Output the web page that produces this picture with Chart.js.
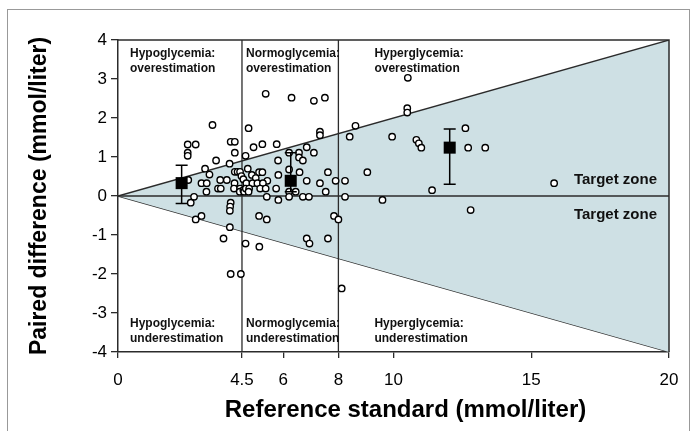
<!DOCTYPE html>
<html>
<head>
<meta charset="utf-8">
<script src="https://cdn.jsdelivr.net/npm/chart.js@4"></script>
<style>
  body { margin: 0; background: #fff; }
  #wrap { position: relative; width: 696px; height: 431px; }
  #frame { position: absolute; left: 7px; top: 9px; width: 681px; height: 430px; border: 1px solid #999; border-bottom: none; pointer-events: none; }
</style>
</head>
<body>
<div id="wrap">
  <canvas id="chart" width="696" height="431"></canvas>
  <div id="frame"></div>
</div>
<script>
// x ticks and y range
const xTicks = [0, 4.5, 6, 8, 10, 15, 20];
const yMin = -4, yMax = 4;
const zoneBounds = [4.5, 8];

// paired observations: reference value and difference
const refX = [2.53, 2.82, 2.53, 2.53, 4.09, 4.24, 4.24, 3.43, 3.56, 4.05, 3.16, 3.32, 4.24, 4.34, 4.43, 4.48, 2.55, 3.03, 3.22, 3.71,
  3.95, 4.23, 3.21, 3.63, 3.73, 4.21, 4.43, 4.42, 2.76, 2.64, 4.09, 4.07, 4.06, 3.03, 2.82, 4.06, 3.83, 4.09, 4.46,
  4.63, 4.71, 4.55, 4.55, 4.70, 4.58, 4.63, 5.36, 6.30, 7.11, 7.51, 4.74, 7.33, 7.33, 4.92, 5.24, 5.76, 6.85, 6.21, 6.57,
  7.11, 6.57, 6.71, 5.81, 6.21, 6.59, 5.12, 5.24, 4.86, 5.82, 7.62, 5.00, 5.42, 6.85, 7.33, 7.90, 4.66, 4.88, 5.06, 5.26,
  4.64, 4.76, 5.16, 5.36, 5.74, 4.74, 6.21, 6.45, 7.54, 5.40, 6.21, 6.71, 6.93, 5.82, 5.12, 5.40, 7.84, 5.13, 6.85, 6.95, 7.62,
  8.62, 8.41, 8.24, 8.24, 8.00, 8.12, 9.05, 10.52, 10.50, 10.50, 9.95, 10.83, 10.92, 11.01, 12.61, 12.71, 13.33, 11.40, 15.83, 12.80, 9.60];
const diffY = [1.32, 1.32, 1.11, 1.03, 1.39, 1.39, 1.11, 1.82, 0.91, 0.83, 0.70, 0.55, 0.62, 0.62, 0.62, 0.51, 0.41, 0.33, 0.33, 0.41,
  0.41, 0.33, 0.11, 0.19, 0.19, 0.19, 0.19, 0.11, -0.02, -0.17, -0.17, -0.27, -0.38, -0.51, -0.60, -0.80, -1.09, -2.00, -2.00,
  1.03, 0.70, 0.43, 0.15, 0.15, 0.11, -1.22, 2.62, 2.52, 2.44, 2.52, 1.74, 1.65, 1.56, 1.25, 1.33, 1.33, 1.25, 1.11, 1.11,
  1.11, 0.99, 0.91, 0.91, 0.68, 0.61, 0.61, 0.61, 0.54, 0.54, 0.61, 0.46, 0.39, 0.39, 0.33, 0.39, 0.33, 0.33, 0.33, 0.33,
  0.19, 0.19, 0.19, 0.19, 0.19, 0.11, 0.11, 0.11, 0.11, -0.02, -0.02, -0.02, -0.02, -0.10, -0.51, -0.60, -0.51, -1.30, -1.09, -1.22, -1.09,
  1.80, 1.52, 0.39, -0.02, -0.60, -2.37, 0.61, 3.03, 2.25, 2.14, 1.52, 1.44, 1.35, 1.24, 1.74, 1.24, 1.24, 0.15, 0.33, -0.36, -0.10];

// group means with error bars
const meanX = [2.31, 6.27, 12.04];
const meanY = [0.33, 0.39, 1.24];
const errLo = [-0.19, 0.11, 0.30];
const errHi = [0.79, 1.11, 1.72];

const topLabels = ['Hypoglycemia:|overestimation', 'Normoglycemia:|overestimation', 'Hyperglycemia:|overestimation'];
const bottomLabels = ['Hypoglycemia:|underestimation', 'Normoglycemia:|underestimation', 'Hyperglycemia:|underestimation'];
const xTitle = 'Reference standard (mmol/liter)';
const yTitle = 'Paired difference (mmol/liter)';

const ink = '#2b2b2b';
const fontFam = '"Liberation Sans", Arial, sans-serif';

const points = refX.map((x, i) => ({x: x, y: diffY[i]}));
const means = meanX.map((x, i) => ({x: x, y: meanY[i]}));

const extras = {
  id: 'extras',
  afterDatasetsDraw(chart) {
    const ctx = chart.ctx;
    const xs = chart.scales.x, ys = chart.scales.y;
    const area = chart.chartArea;
    ctx.save();
    // error bars
    ctx.strokeStyle = '#000';
    ctx.lineWidth = 1.5;
    meanX.forEach((mx, i) => {
      const px = xs.getPixelForValue(mx);
      const p1 = ys.getPixelForValue(errLo[i]);
      const p2 = ys.getPixelForValue(errHi[i]);
      ctx.beginPath();
      ctx.moveTo(px, p1); ctx.lineTo(px, p2);
      ctx.moveTo(px - 6, p1); ctx.lineTo(px + 6, p1);
      ctx.moveTo(px - 6, p2); ctx.lineTo(px + 6, p2);
      ctx.stroke();
    });
    // box top and right
    ctx.strokeStyle = ink;
    ctx.lineWidth = 1.5;
    ctx.beginPath();
    ctx.moveTo(area.left, area.top); ctx.lineTo(area.right, area.top); ctx.lineTo(area.right, area.bottom);
    ctx.stroke();
    // region labels
    ctx.fillStyle = '#111';
    ctx.font = 'bold 12px ' + fontFam;
    ctx.textBaseline = 'middle';
    ctx.textAlign = 'left';
    const starts = [xs.getPixelForValue(0) + 12, xs.getPixelForValue(zoneBounds[0]) + 4, xs.getPixelForValue(zoneBounds[1]) + 36];
    starts.forEach((sx, i) => {
      const t = topLabels[i].split('|');
      ctx.fillText(t[0], sx, area.top + 14);
      ctx.fillText(t[1], sx, area.top + 29);
      const b = bottomLabels[i].split('|');
      ctx.fillText(b[0], sx, area.bottom - 28);
      ctx.fillText(b[1], sx, area.bottom - 13);
    });
    // target zone
    ctx.font = 'bold 15px ' + fontFam;
    ctx.textAlign = 'right';
    const zx = xs.getPixelForValue(20) - 12;
    const zy = ys.getPixelForValue(0);
    ctx.fillText('Target zone', zx, zy - 16);
    ctx.fillText('Target zone', zx, zy + 19);
    // axis titles
    ctx.fillStyle = '#000';
    ctx.textAlign = 'center';
    ctx.font = 'bold 24px ' + fontFam;
    ctx.fillText(xTitle, (area.left + area.right) / 2 + 12, 410);
    ctx.translate(40, (area.top + area.bottom) / 2);
    ctx.rotate(-Math.PI / 2);
    ctx.font = 'bold 23px ' + fontFam;
    ctx.fillText(yTitle, 0, 0);
    ctx.restore();
  }
};

new Chart(document.getElementById('chart').getContext('2d'), {
  type: 'scatter',
  data: {
    datasets: [
      {
        data: means, pointStyle: 'rect', pointRadius: 8.5, backgroundColor: '#000', borderColor: '#000',
        borderWidth: 0, order: 0
      },
      {
        data: points, pointRadius: 3.2, backgroundColor: '#fff', borderColor: '#000', borderWidth: 1.4, order: 1
      },
      {
        data: [{x: 0, y: 0}, {x: 20, y: 0}], showLine: true, pointRadius: 0, borderColor: ink, borderWidth: 1.3, order: 5
      },
      {
        data: [{x: zoneBounds[0], y: yMin}, {x: zoneBounds[0], y: yMax}], showLine: true, pointRadius: 0, borderColor: ink, borderWidth: 1.3, order: 5
      },
      {
        data: [{x: zoneBounds[1], y: yMin}, {x: zoneBounds[1], y: yMax}], showLine: true, pointRadius: 0, borderColor: ink, borderWidth: 1.3, order: 5
      },
      {
        data: [{x: 0, y: 0}, {x: 20, y: 4}], showLine: true, pointRadius: 0, borderColor: ink, borderWidth: 1.3,
        fill: '+1', backgroundColor: 'rgb(206,224,228)', order: 10
      },
      {
        data: [{x: 0, y: 0}, {x: 20, y: -4}], showLine: true, pointRadius: 0, borderColor: ink, borderWidth: 1.3, order: 10
      }
    ]
  },
  options: {
    responsive: false,
    animation: false,
    layout: { padding: { top: 40, right: 27, left: 0, bottom: 0 } },
    plugins: { legend: { display: false }, tooltip: { enabled: false } },
    scales: {
      x: {
        type: 'linear', min: 0, max: 20,
        afterBuildTicks: s => { s.ticks = xTicks.map(v => ({value: v})); },
        afterFit: s => { s.height = 79; },
        grid: { drawOnChartArea: false, drawTicks: true, tickLength: 6, color: ink, lineWidth: 1.3 },
        border: { display: true, color: ink, width: 1.5 },
        ticks: { color: '#000', padding: 12, maxRotation: 0, font: { family: fontFam, size: 17 }, callback: v => String(v) },
        title: { display: false }
      },
      y: {
        type: 'linear', min: yMin, max: yMax,
        afterFit: s => { s.width = 118; },
        grid: { drawOnChartArea: false, drawTicks: true, tickLength: 7, color: ink, lineWidth: 1.3 },
        border: { display: true, color: ink, width: 1.5 },
        ticks: { stepSize: 1, color: '#000', padding: 4, font: { family: fontFam, size: 17 } },
        title: { display: false }
      }
    }
  },
  plugins: [extras]
});
</script>
</body>
</html>
